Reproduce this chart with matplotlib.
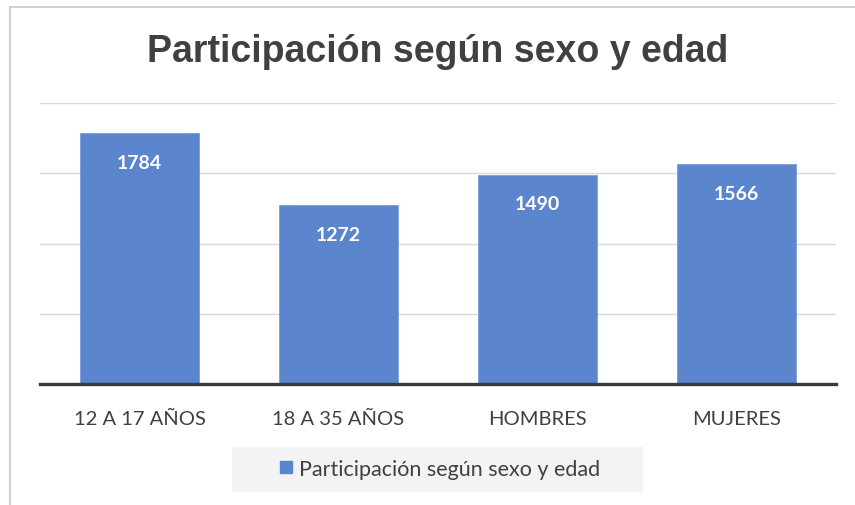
import matplotlib
matplotlib.use('Agg')
import matplotlib.pyplot as plt
from matplotlib.lines import Line2D
from matplotlib.patches import Rectangle

# datos del gráfico
categorias = ['12 A 17 AÑOS', '18 A 35 AÑOS', 'HOMBRES', 'MUJERES']
valores = [1784, 1272, 1490, 1566]
titulo = 'Participación según sexo y edad'
serie = 'Participación según sexo y edad'

W, H = 855, 506
color_barra = '#5b85cd'
gris_texto = '#404040'

fig = plt.figure(figsize=(W / 100, H / 100), dpi=100)

# área del gráfico en pixeles -> fracciones
x0, x1 = 40, 836
y_base, y_top = 385, 104
ax = fig.add_axes([x0 / W, 1 - y_base / H, (x1 - x0) / W, (y_base - y_top) / H])

pos = list(range(len(categorias)))
barras = ax.bar(pos, valores, width=0.6, color=color_barra, edgecolor='#7b9cd9',
                linewidth=0.6, zorder=2)

# etiquetas de valor dentro de la barra
for b, v in zip(barras, valores):
    ax.annotate(str(v), (b.get_x() + b.get_width() / 2, v), xytext=(0, -21),
                textcoords='offset points', ha='center', va='center',
                color='white', fontsize=14, fontweight='bold', family='Lato')

ax.set_xlim(-0.5, len(categorias) - 0.5)
ax.set_ylim(0, 2000)
ax.set_yticks([500, 1000, 1500, 2000])
ax.yaxis.grid(True, color='#d9d9d9', linewidth=1, zorder=0)
ax.set_axisbelow(True)
ax.tick_params(axis='y', left=False, labelleft=False)
ax.set_xticks(pos)
ax.set_xticklabels(categorias, fontsize=14.5, family='Lato', color=gris_texto)
ax.tick_params(axis='x', length=0, pad=19)
for s in ['top', 'right', 'left']:
    ax.spines[s].set_visible(False)
ax.spines['bottom'].set_color('#3a3a3a')
ax.spines['bottom'].set_linewidth(2.4)
ax.spines['bottom'].set_zorder(3)

# título
fig.text(437.5 / W, 1 - 52 / H, titulo, ha='center', va='center', fontsize=27,
         fontweight='bold', family='Liberation Sans', color=gris_texto)

# borde del área del gráfico (recortado a derecha y abajo)
fig.add_artist(Line2D([10 / W, 10 / W], [0, 1 - 8 / H], color='#c8c8c8', lw=1.2,
                      transform=fig.transFigure))
fig.add_artist(Line2D([10 / W, 1], [1 - 8 / H, 1 - 8 / H], color='#c8c8c8', lw=1.2,
                      transform=fig.transFigure))

# leyenda
fig.add_artist(Rectangle((232 / W, 1 - 493 / H), (643 - 232) / W, 45 / H,
                         transform=fig.transFigure, facecolor='#f3f3f3',
                         edgecolor='none', zorder=0))
handle = Line2D([], [], marker='s', linestyle='none', markersize=8,
                markerfacecolor=color_barra, markeredgecolor=color_barra)
leg = fig.legend([handle], [serie], loc='center', bbox_to_anchor=(440 / W, 1 - 470 / H),
                 frameon=False, handlelength=0.6, handletextpad=0.3,
                 prop={'family': 'Lato', 'size': 15.5})
for t in leg.get_texts():
    t.set_color(gris_texto)

fig.savefig('out.png', dpi=100, facecolor='white')
